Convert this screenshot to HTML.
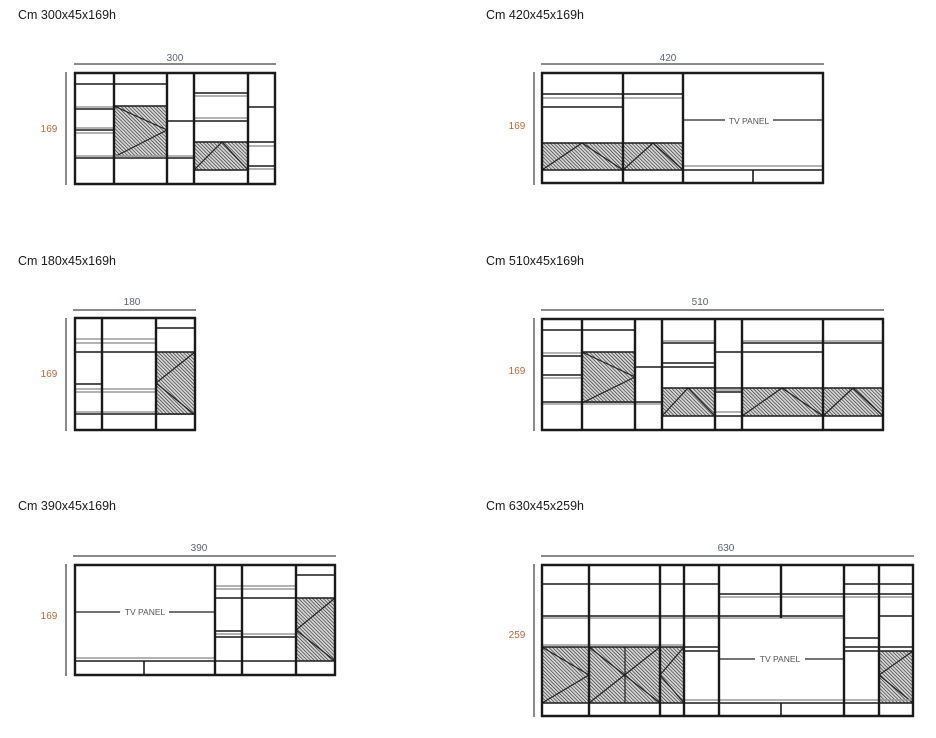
<!DOCTYPE html>
<html><head><meta charset="utf-8"><style>
html,body{margin:0;padding:0;background:#fff;width:936px;height:738px;overflow:hidden}
svg{display:block}
.t{font-family:"Liberation Sans",sans-serif;font-size:12.5px;fill:#1a1a1a}
.w{font-family:"Liberation Sans",sans-serif;font-size:10px;fill:#5a6278}
.h{font-family:"Liberation Sans",sans-serif;font-size:10px;fill:#b8683a}
.tv{font-family:"Liberation Sans",sans-serif;font-size:8.5px;fill:#555}
.d{stroke:#8a8a8a;stroke-width:2}
.p{stroke:#1a1a1a;stroke-width:2.4}
.s{stroke:#1a1a1a;stroke-width:1.6}
.g{stroke:#9a9a9a;stroke-width:1.5}
.l{stroke:#222;stroke-width:1.2}
</style></head><body>
<svg width="936" height="738" viewBox="0 0 936 738" xmlns="http://www.w3.org/2000/svg">
<defs>
<pattern id="hh" width="2.5" height="2.5" patternUnits="userSpaceOnUse" patternTransform="rotate(-45)">
<rect width="2.5" height="2.5" fill="#d8d8d8"/><line x1="0" y1="0" x2="0" y2="2.5" stroke="#2a2a2a" stroke-width="1.3"/>
</pattern>
</defs>

<!-- Titles -->
<text class="t" x="18" y="19">Cm 300x45x169h</text>
<text class="t" x="486" y="19">Cm 420x45x169h</text>
<text class="t" x="18" y="265">Cm 180x45x169h</text>
<text class="t" x="486" y="265">Cm 510x45x169h</text>
<text class="t" x="18" y="510">Cm 390x45x169h</text>
<text class="t" x="486" y="510">Cm 630x45x259h</text>

<!-- ===== 300 ===== -->
<text class="w" x="175" y="61" text-anchor="middle">300</text>
<line class="d" x1="74" y1="64" x2="276" y2="64"/>
<line class="d" x1="66" y1="72" x2="66" y2="185"/>
<text class="h" x="49" y="132" text-anchor="middle">169</text>
<rect x="114" y="106" width="53" height="51" fill="url(#hh)"/>
<polyline class="l" fill="none" points="114,106 167,130 114,157"/>
<rect x="194" y="142" width="54" height="28" fill="url(#hh)"/>
<polyline class="l" fill="none" points="194,170 222,142 248,170"/>
<g>
<line class="g" x1="74" y1="107" x2="114" y2="107"/><line class="s" x1="74" y1="109" x2="114" y2="109"/>
<line class="s" x1="74" y1="84" x2="167" y2="84"/>
<line class="g" x1="74" y1="128" x2="114" y2="128"/><line class="s" x1="74" y1="130" x2="114" y2="130"/><line class="g" x1="74" y1="133" x2="114" y2="133"/>
<line class="g" x1="74" y1="156" x2="194" y2="156"/><line class="s" x1="74" y1="158" x2="194" y2="158"/>
<line class="s" x1="114" y1="106" x2="167" y2="106"/>
<line class="s" x1="167" y1="121" x2="248" y2="121"/>
<line class="s" x1="194" y1="93" x2="248" y2="93"/><line class="g" x1="194" y1="96" x2="248" y2="96"/>
<line class="g" x1="194" y1="118" x2="248" y2="118"/>
<line class="s" x1="194" y1="142" x2="248" y2="142"/><line class="s" x1="194" y1="170" x2="248" y2="170"/>
<line class="s" x1="248" y1="107" x2="275" y2="107"/><line class="s" x1="248" y1="142" x2="275" y2="142"/><line class="g" x1="248" y1="146" x2="275" y2="146"/>
<line class="s" x1="248" y1="166" x2="275" y2="166"/><line class="g" x1="248" y1="169" x2="275" y2="169"/>
<line class="p" x1="74" y1="73" x2="276" y2="73"/><line class="p" x1="74" y1="184" x2="276" y2="184"/>
<line class="p" x1="75" y1="72" x2="75" y2="185"/><line class="p" x1="114" y1="72" x2="114" y2="185"/><line class="p" x1="167" y1="72" x2="167" y2="185"/><line class="p" x1="194" y1="72" x2="194" y2="185"/><line class="p" x1="248" y1="72" x2="248" y2="185"/><line class="p" x1="275" y1="72" x2="275" y2="185"/>
</g>

<!-- ===== 420 ===== -->
<text class="w" x="668" y="61" text-anchor="middle">420</text>
<line class="d" x1="541" y1="64" x2="824" y2="64"/>
<line class="d" x1="534" y1="72" x2="534" y2="185"/>
<text class="h" x="517" y="129" text-anchor="middle">169</text>
<rect x="542" y="143" width="141" height="27" fill="url(#hh)"/>
<polyline class="l" fill="none" points="542,170 582,143 623,170"/>
<polyline class="l" fill="none" points="623,170 653,143 683,170"/>
<line class="s" x1="542" y1="94" x2="683" y2="94"/><line class="g" x1="542" y1="98" x2="683" y2="98"/>
<line class="s" x1="542" y1="107" x2="623" y2="107"/>
<line class="s" x1="542" y1="143" x2="683" y2="143"/>
<line class="s" x1="542" y1="170" x2="823" y2="170"/><line class="g" x1="683" y1="166" x2="823" y2="166"/>
<line class="s" x1="753" y1="170" x2="753" y2="184"/>
<line class="l" x1="684" y1="120" x2="725" y2="120"/><line class="l" x1="773" y1="120" x2="822" y2="120"/>
<text class="tv" x="749" y="124" text-anchor="middle">TV PANEL</text>
<line class="p" x1="541" y1="73" x2="824" y2="73"/><line class="p" x1="541" y1="183" x2="824" y2="183"/>
<line class="p" x1="542" y1="72" x2="542" y2="184"/><line class="p" x1="623" y1="72" x2="623" y2="184"/><line class="p" x1="683" y1="72" x2="683" y2="184"/><line class="p" x1="823" y1="72" x2="823" y2="184"/>

<!-- ===== 180 ===== -->
<text class="w" x="132" y="305" text-anchor="middle">180</text>
<line class="d" x1="73" y1="310" x2="196" y2="310"/>
<line class="d" x1="66" y1="318" x2="66" y2="431"/>
<text class="h" x="49" y="377" text-anchor="middle">169</text>
<rect x="156" y="352" width="39" height="63" fill="url(#hh)"/>
<polyline class="l" fill="none" points="195,352 156,383 195,415"/>
<line class="g" x1="75" y1="339" x2="156" y2="339"/><line class="g" x1="75" y1="343" x2="156" y2="343"/>
<line class="s" x1="75" y1="352" x2="195" y2="352"/>
<line class="s" x1="75" y1="384" x2="102" y2="384"/><line class="g" x1="75" y1="389" x2="156" y2="389"/><line class="g" x1="75" y1="392" x2="156" y2="392"/>
<line class="g" x1="75" y1="412" x2="156" y2="412"/><line class="s" x1="75" y1="414" x2="195" y2="414"/>
<line class="s" x1="156" y1="328" x2="195" y2="328"/>
<line class="p" x1="74" y1="318" x2="196" y2="318"/><line class="p" x1="74" y1="430" x2="196" y2="430"/>
<line class="p" x1="75" y1="317" x2="75" y2="431"/><line class="p" x1="102" y1="317" x2="102" y2="431"/><line class="p" x1="156" y1="317" x2="156" y2="431"/><line class="p" x1="195" y1="317" x2="195" y2="431"/>

<!-- ===== 510 ===== -->
<text class="w" x="700" y="305" text-anchor="middle">510</text>
<line class="d" x1="541" y1="310" x2="884" y2="310"/>
<line class="d" x1="534" y1="318" x2="534" y2="431"/>
<text class="h" x="517" y="374" text-anchor="middle">169</text>
<rect x="582" y="352" width="53" height="51" fill="url(#hh)"/>
<polyline class="l" fill="none" points="582,352 635,377 582,403"/>
<rect x="662" y="388" width="53" height="28" fill="url(#hh)"/>
<polyline class="l" fill="none" points="662,416 688,388 715,416"/>
<rect x="742" y="388" width="141" height="28" fill="url(#hh)"/>
<polyline class="l" fill="none" points="742,416 782,388 823,416"/>
<polyline class="l" fill="none" points="823,416 853,388 883,416"/>
<line class="s" x1="542" y1="330" x2="635" y2="330"/>
<line class="g" x1="542" y1="353" x2="582" y2="353"/><line class="s" x1="542" y1="356" x2="582" y2="356"/>
<line class="s" x1="582" y1="352" x2="635" y2="352"/>
<line class="s" x1="542" y1="375" x2="582" y2="375"/><line class="g" x1="542" y1="378" x2="582" y2="378"/>
<line class="s" x1="542" y1="402" x2="662" y2="402"/><line class="g" x1="542" y1="404" x2="662" y2="404"/>
<line class="s" x1="635" y1="367" x2="715" y2="367"/>
<line class="g" x1="662" y1="341" x2="715" y2="341"/><line class="s" x1="662" y1="343" x2="715" y2="343"/>
<line class="s" x1="662" y1="363" x2="715" y2="363"/>
<line class="s" x1="662" y1="388" x2="883" y2="388"/><line class="s" x1="662" y1="416" x2="883" y2="416"/>
<line class="s" x1="715" y1="352" x2="823" y2="352"/>
<line class="g" x1="715" y1="390" x2="742" y2="390"/><line class="s" x1="715" y1="392" x2="742" y2="392"/>
<line class="g" x1="715" y1="412" x2="742" y2="412"/>
<line class="g" x1="742" y1="341" x2="883" y2="341"/><line class="s" x1="742" y1="343" x2="883" y2="343"/>
<line class="p" x1="541" y1="319" x2="884" y2="319"/><line class="p" x1="541" y1="430" x2="884" y2="430"/>
<line class="p" x1="542" y1="318" x2="542" y2="431"/><line class="p" x1="582" y1="318" x2="582" y2="431"/><line class="p" x1="635" y1="318" x2="635" y2="431"/><line class="p" x1="662" y1="318" x2="662" y2="431"/><line class="p" x1="715" y1="318" x2="715" y2="431"/><line class="p" x1="742" y1="318" x2="742" y2="431"/><line class="p" x1="823" y1="318" x2="823" y2="431"/><line class="p" x1="883" y1="318" x2="883" y2="431"/>

<!-- ===== 390 ===== -->
<text class="w" x="199" y="551" text-anchor="middle">390</text>
<line class="d" x1="73" y1="556" x2="336" y2="556"/>
<line class="d" x1="66" y1="564" x2="66" y2="676"/>
<text class="h" x="49" y="619" text-anchor="middle">169</text>
<rect x="296" y="598" width="39" height="63" fill="url(#hh)"/>
<polyline class="l" fill="none" points="335,598 296,630 335,661"/>
<line class="g" x1="75" y1="658" x2="215" y2="658"/><line class="s" x1="75" y1="661" x2="335" y2="661"/>
<line class="s" x1="144" y1="661" x2="144" y2="675"/>
<line class="l" x1="76" y1="612" x2="120" y2="612"/><line class="l" x1="169" y1="612" x2="214" y2="612"/>
<text class="tv" x="145" y="615" text-anchor="middle">TV PANEL</text>
<line class="g" x1="215" y1="586" x2="296" y2="586"/><line class="g" x1="215" y1="589" x2="296" y2="589"/>
<line class="s" x1="215" y1="598" x2="335" y2="598"/>
<line class="s" x1="215" y1="631" x2="242" y2="631"/><line class="g" x1="215" y1="634" x2="296" y2="634"/><line class="s" x1="215" y1="637" x2="296" y2="637"/>
<line class="s" x1="296" y1="575" x2="335" y2="575"/>
<line class="p" x1="74" y1="565" x2="336" y2="565"/><line class="p" x1="74" y1="675" x2="336" y2="675"/>
<line class="p" x1="75" y1="564" x2="75" y2="676"/><line class="p" x1="215" y1="564" x2="215" y2="676"/><line class="p" x1="242" y1="564" x2="242" y2="676"/><line class="p" x1="296" y1="564" x2="296" y2="676"/><line class="p" x1="335" y1="564" x2="335" y2="676"/>

<!-- ===== 630 ===== -->
<text class="w" x="726" y="551" text-anchor="middle">630</text>
<line class="d" x1="541" y1="556" x2="914" y2="556"/>
<line class="d" x1="534" y1="564" x2="534" y2="717"/>
<text class="h" x="517" y="638" text-anchor="middle">259</text>
<rect x="542" y="647" width="142" height="56" fill="url(#hh)"/>
<rect x="879" y="651" width="34" height="52" fill="url(#hh)"/>
<polyline class="l" fill="none" points="542,647 589,675 542,703"/>
<line class="l" x1="589" y1="647" x2="660" y2="703"/><line class="l" x1="660" y1="647" x2="589" y2="703"/>
<line class="l" x1="625" y1="647" x2="625" y2="703"/>
<polyline class="l" fill="none" points="684,647 660,675 684,703"/>
<polyline class="l" fill="none" points="913,651 879,675 913,703"/>
<line class="s" x1="542" y1="584" x2="719" y2="584"/><line class="s" x1="844" y1="584" x2="913" y2="584"/>
<line class="s" x1="719" y1="594" x2="913" y2="594"/><line class="g" x1="719" y1="597" x2="913" y2="597"/>
<line class="s" x1="542" y1="616" x2="844" y2="616"/><line class="g" x1="542" y1="618" x2="844" y2="618"/>
<line class="s" x1="879" y1="616" x2="913" y2="616"/>
<line class="s" x1="844" y1="638" x2="879" y2="638"/>
<line class="g" x1="542" y1="645" x2="684" y2="645"/><line class="s" x1="542" y1="647" x2="719" y2="647"/><line class="s" x1="684" y1="651" x2="719" y2="651"/>
<line class="s" x1="844" y1="647" x2="913" y2="647"/><line class="s" x1="844" y1="651" x2="913" y2="651"/>
<line class="g" x1="684" y1="700" x2="913" y2="700"/><line class="s" x1="542" y1="703" x2="913" y2="703"/>
<line class="s" x1="781" y1="703" x2="781" y2="716"/>
<line class="l" x1="720" y1="659" x2="755" y2="659"/><line class="l" x1="805" y1="659" x2="843" y2="659"/>
<text class="tv" x="780" y="662" text-anchor="middle">TV PANEL</text>
<line class="p" x1="541" y1="565" x2="914" y2="565"/><line class="p" x1="541" y1="716" x2="914" y2="716"/>
<line class="p" x1="542" y1="564" x2="542" y2="717"/><line class="p" x1="589" y1="564" x2="589" y2="717"/><line class="p" x1="660" y1="564" x2="660" y2="717"/><line class="p" x1="684" y1="564" x2="684" y2="717"/><line class="p" x1="719" y1="564" x2="719" y2="717"/>
<line class="p" x1="781" y1="564" x2="781" y2="618"/>
<line class="p" x1="844" y1="564" x2="844" y2="717"/><line class="p" x1="879" y1="564" x2="879" y2="717"/><line class="p" x1="913" y1="564" x2="913" y2="717"/>
</svg>
</body></html>
